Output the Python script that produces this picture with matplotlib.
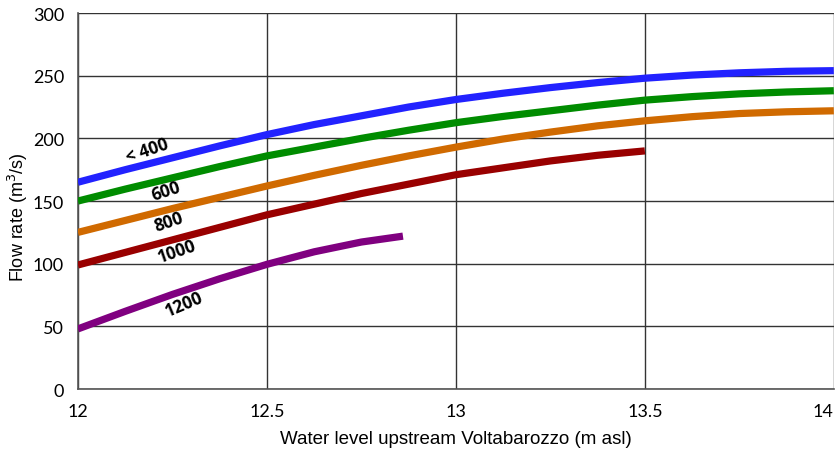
import matplotlib
matplotlib.use('Agg')
import matplotlib.pyplot as plt

# water level (m asl) and flow rate (m3/s)
x_full = [12, 12.125, 12.25, 12.375, 12.5, 12.625, 12.75, 12.875, 13,
          13.125, 13.25, 13.375, 13.5, 13.625, 13.75, 13.875, 14]
q_400 = [165, 175, 184.5, 194, 203, 211, 218, 225, 231,
         236, 240.5, 244.5, 248, 250.5, 252.3, 253.5, 254]
q_600 = [150, 159.5, 168.5, 177.5, 186, 193, 200, 206.5, 212.5,
         217.5, 222, 226.5, 230.5, 233.3, 235.5, 237, 238]
q_800 = [125, 134.5, 144, 153, 162, 170.5, 178.5, 186, 193,
         199.5, 205, 210, 214, 217.3, 219.8, 221.2, 222]
x_1000 = [12, 12.125, 12.25, 12.375, 12.5, 12.625, 12.75, 12.875, 13,
          13.125, 13.25, 13.375, 13.5]
q_1000 = [99, 109, 119, 129, 139, 147.5, 156, 163.5, 171,
          176.5, 182, 186.5, 190]
x_1200 = [12, 12.125, 12.25, 12.375, 12.5, 12.625, 12.75, 12.86]
q_1200 = [48, 62, 75.5, 88, 99.5, 109.5, 117.3, 122]

labels = ["< 400", "600", "800", "1000", "1200"]
xticks = [12, 12.5, 13, 13.5, 14]
yticks = [0, 50, 100, 150, 200, 250, 300]

fig = plt.figure(figsize=(8.38, 4.52), dpi=100)
ax = fig.add_axes([0.093, 0.137, 0.902, 0.832])

series = [
    (x_full, q_400, '#2222FF'),
    (x_full, q_600, '#008C00'),
    (x_full, q_800, '#D06A00'),
    (x_1000, q_1000, '#990000'),
    (x_1200, q_1200, '#800080'),
]
for xs, ys, c in series:
    ax.plot(xs, ys, color=c, lw=5.2, solid_capstyle='butt', zorder=3)

# rotated curve labels
label_pos = [(12.182, 191, 19), (12.233, 158, 18), (12.24, 134, 19), (12.262, 110, 19), (12.28, 68, 23)]
for lab, (lx, ly, rot) in zip(labels, label_pos):
    ax.text(lx, ly, lab, rotation=rot, rotation_mode='anchor', ha='center', va='center',
            fontsize=12.5, fontweight='bold', family='Open Sans', zorder=4)

ax.set_xlim(12, 14)
ax.set_ylim(0, 300)
ax.set_xticks(xticks)
ax.set_yticks(yticks)
ax.set_xticklabels([f"{t:g}" for t in xticks], family='Lato', fontsize=13)
ax.set_yticklabels([str(t) for t in yticks], family='Lato', fontsize=13)
ax.get_xticklabels()[-1].set_ha('right')
ax.tick_params(length=0)
ax.tick_params(axis='x', pad=10)
ax.tick_params(axis='y', pad=10)
ax.grid(True, color='#333333', lw=1.0)
for s in ['top', 'right']:
    ax.spines[s].set_visible(False)
for s in ['left', 'bottom']:
    ax.spines[s].set_color('#555555')
    ax.spines[s].set_linewidth(1.2)

ax.set_xlabel("Water level upstream Voltabarozzo (m asl)", family='Liberation Sans', fontsize=13.5, labelpad=8)
ax.set_ylabel("Flow rate (m$^3$/s)", family='Liberation Sans', fontsize=13)
ax.yaxis.set_label_coords(-0.064, 0.46)

fig.savefig("out.png", dpi=100)
